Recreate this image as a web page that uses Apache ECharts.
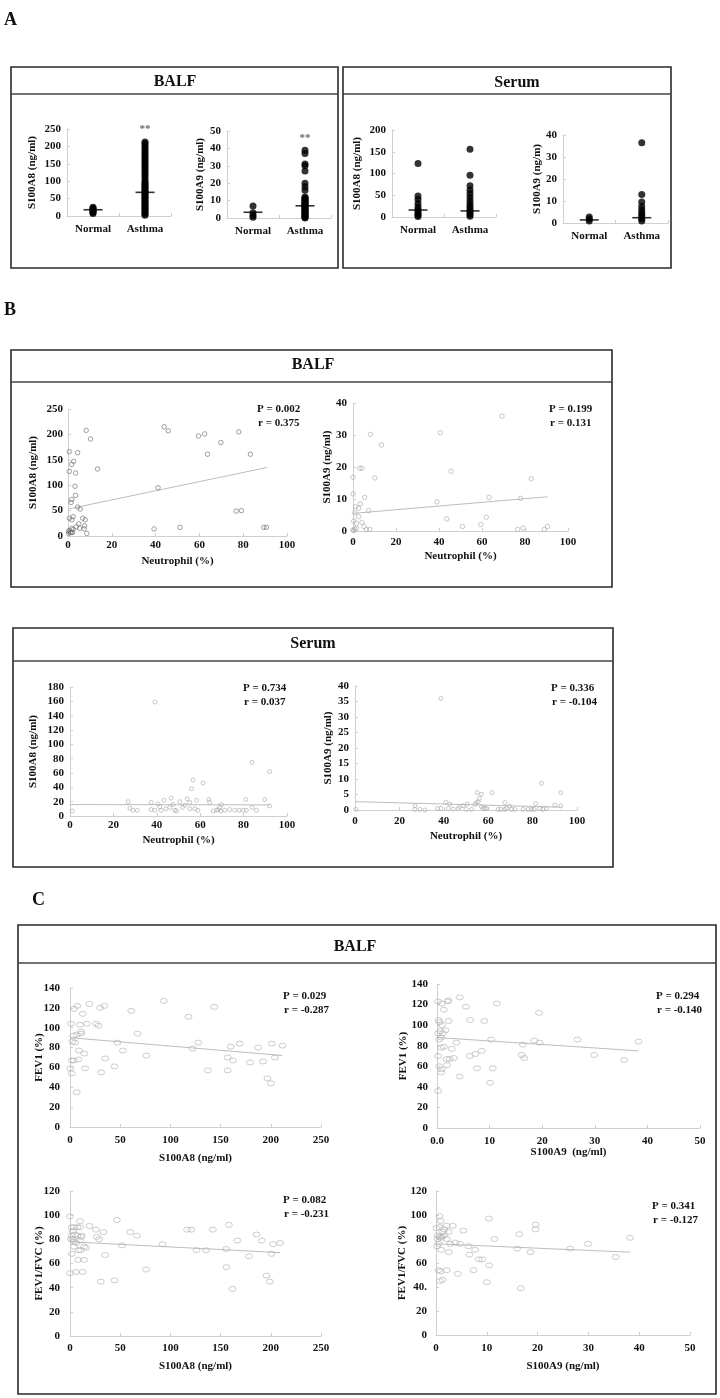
<!DOCTYPE html>
<html><head><meta charset="utf-8">
<script src="https://cdn.jsdelivr.net/npm/echarts@6/dist/echarts.min.js"></script>
<style>html,body{margin:0;padding:0;background:#fff}#c{width:720px;height:1398px}</style>
</head><body><div id="c"></div>
<script>
const FONT = "'Liberation Serif','Times New Roman',serif";

// ---------- Panel A (group dot plots) ----------
const groups = ['Normal', 'Asthma'];
const balfA8Normal = [7, 10, 13, 16, 19, 22, 25];
const balfA8Asthma = [2,6,10,14,18,22,26,30,34,38,42,46,50,54,58,62,66,70,74,78,82,86,90,94,98,104,112,118,124,130,136,142,148,154,160,166,172,178,184,190,196,202,208,213];
const balfA8Mean = [18, 68];
const balfA9Normal = [0.5, 1.5, 3, 6.9];
const balfA9Asthma = [0,0.5,1,1.5,2,2.5,3,3.5,4,4.5,5,5.5,6,6.5,7,7.5,8,8.5,9,9.5,10,10.5,11,11.5,12,16,18,20,27,30,31,37,39];
const balfA9Mean = [3.3, 7];
const serumA8Normal = [123,48,40,31,23,17,12,8,4,1];
const serumA8Asthma = [156,96,72,62,54,46,38,31,25,19,14,9,5,2];
const serumA8Mean = [16, 14];
const serumA9Normal = [0.9, 1.8, 2.7];
const serumA9Asthma = [36.5,13,9.5,7.5,6,4.8,3.8,2.7,1.8,0.9];
const serumA9Mean = [1.4, 2.4];
const sigMarks = ['', '**'];

// ---------- Panel B (vs neutrophil %) ----------
const balfNeutA8 = [[8.3,208],[10.3,191],[0.6,166],[4.4,164],[2.6,147],[1.7,141],[0.6,127],[3.5,124],[13.5,132],[3.2,98],[3.5,80],[1.7,72],[1.4,66],[4.4,57],[5.6,53],[0.6,35],[2.3,38],[1.8,32],[6.7,35],[7.9,32],[4.9,24],[7.6,20],[3.8,18],[5.3,15],[7.4,14],[1.7,15],[2.3,13],[0.6,11],[0.3,9],[1.1,7],[1.5,7],[2.1,7],[0.3,5],[8.6,5],[43.9,215],[45.8,207],[59.6,197],[62.4,201],[63.7,161],[69.8,184],[78,205],[83.3,161],[41.1,95],[39.3,14],[51.1,17],[76.8,49],[79.2,50],[89.4,17],[90.6,17]];
const balfNeutA8Fit = [[0,53],[91,135]];
const balfNeutA9 = [[69.3,35.9],[8.1,30.2],[40.6,30.7],[13.2,26.9],[3.1,19.6],[4.2,19.6],[0,16.8],[10.2,16.6],[45.6,18.7],[82.9,16.3],[0,11.6],[5.4,10.5],[63.3,10.5],[78,10.2],[39.1,9.1],[1.2,7.6],[3.4,8.5],[2.6,7.1],[7.3,6.4],[0.8,5.7],[2.6,4.5],[0.3,3.1],[4.2,2.7],[1.6,2.4],[43.6,3.8],[62,4.3],[59.5,2],[50.9,1.4],[5.1,1.4],[7.8,0.5],[6.2,0.5],[0,0.3],[0.8,0.6],[1.6,0.8],[0.4,0.1],[76.6,0.5],[79.1,0.9],[89,0.5],[90.5,1.4]];
const balfNeutA9Fit = [[0,5.5],[90.5,10.7]];
const serumNeutA8 = [[39.1,159],[1,7],[26.8,20],[27.6,11],[29,8],[31,8],[37.4,19],[37.4,9],[39,8],[40.5,17],[41.9,8],[43.3,22],[41.4,13],[44.2,10],[46.6,25],[46,12],[48.3,8],[49,7],[47.5,16],[50.6,20],[51.8,12],[52.9,15],[54,24],[56.7,50],[56,38],[61.3,46],[58.3,22],[55.2,19],[57.5,10],[55.2,10],[58.9,8],[63.9,23],[64.4,19],[66,7],[67.5,8],[68.3,9],[69,12],[69.8,16],[69.5,7],[71.3,8],[73.6,9],[75.9,8],[77.9,8],[79.8,8],[81,23],[81.3,8],[83.9,75],[83.9,12],[85.9,8],[89.7,23],[92,62],[92,14]];
const serumNeutA8Fit = [[0,16],[92,15.5]];
const serumNeutA9 = [[38.7,36],[0.4,0.2],[27,1.4],[27,0.2],[29.2,0.2],[31.5,0],[37.2,0.5],[38.7,0.5],[40.9,2.5],[42.7,1.9],[42,0.5],[44.2,0.3],[46.5,0.5],[47.2,1.1],[48.7,1.4],[50,0.2],[50.5,1.9],[52.5,0.2],[54,1.8],[54.7,2.4],[55,5.6],[57,5.1],[56,3.7],[55.5,2.7],[57,1.1],[57.7,0.5],[58.5,0.5],[59.2,0.5],[61.8,5.6],[64.5,0.2],[65.7,0.2],[67.5,2.4],[67.5,0.2],[68.2,0.5],[69.7,1.3],[70.5,0.2],[72,0.2],[75.7,0.2],[78,0.2],[79.5,0.2],[80.7,0.2],[81.4,2.1],[83.2,0.5],[84,8.6],[84.7,0.2],[86.2,0.5],[90,1.6],[92.7,5.6],[92.7,1.3]];
const serumNeutA9Fit = [[0,2.7],[93,0.9]];

// ---------- Panel C (lung function) ----------
const fev1VsA8 = [[1,104],[0.3,59],[1.7,54],[1.7,67],[2.3,86],[3.3,92],[4,119],[7.3,122],[4,67],[6.7,35],[5,85],[6.7,93],[8.3,68],[9,77],[10,103],[11,96],[11,94],[12.7,114],[14.3,74],[15,59],[16.7,104],[19.3,124],[26,104],[28.3,102],[30,120],[34.3,122],[31,55],[35,69],[44.3,61],[47.3,85],[52.7,77],[61,117],[67.3,94],[76,72],[93.3,127],[118,111],[122,79],[127.7,85],[137.3,57],[143.7,121],[157,57],[157,70],[160,81],[162.3,67],[169,84],[179.3,65],[187.3,80],[192.3,66],[196.7,49],[200,44],[201,84],[204,70],[211.7,82]];
const fev1VsA8Fit = [[0,90],[211.7,72]];
const fev1VsA9 = [[0.2,123],[0.9,121],[1.3,115],[2.2,124],[2,123],[4.3,127],[5.5,118],[11.4,121],[19.4,112],[0.3,105],[0.5,103],[0.9,100],[2.2,104],[6.3,105],[9,104],[0.2,92],[0.6,94],[1.6,95],[1.1,92],[0.4,86],[0.8,88],[3.7,83],[10.3,86],[0.8,78],[1.3,79],[2.8,77],[16.3,81],[18.5,85],[19.5,83],[26.7,86],[38.3,84],[0.2,70],[1.8,67],[2.4,67],[3.2,68],[6.2,70],[7.3,72],[8.5,75],[16.1,71],[16.6,68],[29.9,71],[35.6,66],[0.4,60],[0.9,57],[1.9,61],[7.6,58],[10.6,58],[0.8,54],[4.3,50],[10.1,44],[0.2,36]];
const fev1VsA9Fit = [[0,88],[38.3,75]];
const ratioVsA8 = [[0,99],[1.7,90],[4,90],[7.3,90],[10,95],[10,90],[19.3,91],[25.7,88],[46.7,96],[2.7,87],[1.7,83],[5,84],[7.3,83],[11.7,83],[11,82],[26.7,82],[29,80],[33.3,86],[60,86],[66.7,83],[116.7,88],[121,88],[142.3,88],[158.3,92],[1,80],[2.7,80],[4,78],[6,77],[10,79],[14,74],[4,74],[8.3,71],[10.7,71],[16,73],[51.7,75],[92.3,76],[126,71],[135.7,71],[155.7,72],[166.7,79],[185.7,84],[191,79],[202.3,76],[209.3,77],[200.7,68],[178.3,66],[1.7,68],[8.3,63],[14,63],[35,67],[0,52],[6,53],[12.7,53],[75.7,55],[155.7,57],[30.7,45],[44.3,46],[195.7,50],[199,45],[161.7,39]];
const ratioVsA8Fit = [[0,78],[209.3,69]];
const ratioVsA9 = [[0.7,99],[0.7,90],[0.1,89],[0.9,95],[2.1,91],[3.3,91],[1.6,88],[1.4,86],[2.5,86],[5.4,87],[10.4,97],[19.6,92],[19.6,88],[0.3,83],[0.7,82],[1.2,82],[1.6,83],[0.3,80],[1,81],[2.1,80],[16.4,84],[11.5,80],[0.5,76],[2.8,76],[3.8,77],[4.7,76],[0.2,74],[1,71],[6.4,74],[7.7,71],[16,72],[26.4,72],[29.9,76],[38.2,81],[35.4,65],[2.5,69],[6.6,67],[18.6,69],[8.4,63],[9.1,63],[10.5,58],[0.5,54],[0.9,53],[2.1,54],[7.4,54],[4.3,51],[0.8,45],[1.3,46],[10,44],[16.7,39]];
const ratioVsA9Fit = [[0,76],[38.2,69]];

// tick label texts that differ from plain numbers
const c2XTickLabels = ['0.0', '10', '20', '30', '40', '50'];
const c4YTickLabels = ['0', '20', '40.', '60', '80', '100', '120'];

// ---------- build ----------
const grids = [], xAxes = [], yAxes = [], series = [];
const lblStyle = {fontFamily: FONT, fontWeight: 'bold', fontSize: 11, color: '#111'};
const axLine = {show: true, lineStyle: {color: '#cfcfcf', width: 1}};
const axTick = {show: true, inside: true, length: 3, lineStyle: {color: '#cfcfcf'}};

function yAxisCfg(i, max, interval, name, gap, margin, fmt) {
  return {gridIndex: i, type: 'value', min: 0, max: max, interval: interval,
    name: name, nameLocation: 'middle', nameGap: gap, nameRotate: 90, nameMoveOverlap: false,
    nameTextStyle: {fontFamily: FONT, fontWeight: 'bold', fontSize: 11, color: '#111'},
    axisLine: axLine, axisTick: axTick, splitLine: {show: false},
    axisLabel: Object.assign({margin: margin, formatter: fmt}, lblStyle)};
}

function addGroupPanel(rect, normal, asthma, means, yMax, yInt, yName, gap, sigY) {
  const i = grids.length;
  grids.push(Object.assign({outerBoundsMode: 'none', containLabel: false}, rect));
  xAxes.push({gridIndex: i, type: 'category', data: groups, boundaryGap: true,
    axisLine: axLine, axisTick: axTick, splitLine: {show: false},
    axisLabel: Object.assign({margin: 8}, lblStyle)});
  yAxes.push(yAxisCfg(i, yMax, yInt, yName, gap, 6));
  const dot = {type: 'scatter', xAxisIndex: i, yAxisIndex: i, symbol: 'circle', symbolSize: 7,
    itemStyle: {color: '#000'}, silent: true};
  series.push(Object.assign({}, dot, {data: normal.map(v => [groups[0], v])}));
  series.push(Object.assign({}, dot, {data: asthma.map(v => [groups[1], v])}));
  series.push({type: 'scatter', xAxisIndex: i, yAxisIndex: i, symbol: 'rect', symbolSize: [19, 1.6],
    itemStyle: {color: '#000'}, data: means.map((m, k) => [groups[k], m]), z: 5});
  if (sigY != null) {
    series.push({type: 'scatter', xAxisIndex: i, yAxisIndex: i, symbolSize: 1,
      itemStyle: {color: 'rgba(0,0,0,0)'},
      label: {show: true, position: 'inside', formatter: p => sigMarks[1],
        fontFamily: FONT, fontWeight: 'bold', fontSize: 11, color: '#444'},
      data: [[groups[1], sigY]]});
  }
}

function addScatterPanel(o) {
  const i = grids.length;
  grids.push(Object.assign({outerBoundsMode: 'none', containLabel: false}, o.rect));
  xAxes.push({gridIndex: i, type: 'value', min: 0, max: o.xMax, interval: o.xInt,
    name: o.xName, nameLocation: 'middle', nameGap: o.xGap, nameMoveOverlap: false,
    nameTextStyle: {fontFamily: FONT, fontWeight: 'bold', fontSize: 11, color: '#111'},
    axisLine: axLine, axisTick: axTick, splitLine: {show: false},
    axisLabel: Object.assign({margin: o.xMargin, formatter: o.xFmt}, lblStyle)});
  yAxes.push(yAxisCfg(i, o.yMax, o.yInt, o.yName, o.yGap, o.yMargin, o.yFmt));
  series.push({type: 'scatter', xAxisIndex: i, yAxisIndex: i, symbol: 'circle',
    symbolSize: o.sym, data: o.data, silent: true,
    itemStyle: {color: 'rgba(0,0,0,0)', borderColor: o.color, borderWidth: 0.8}});
  series.push({type: 'line', xAxisIndex: i, yAxisIndex: i, data: o.fit, showSymbol: false,
    symbol: 'none', lineStyle: {color: '#bdbdbd', width: 1}, silent: true, z: 1});
}

// Panel A
addGroupPanel({left: 67, top: 129, width: 104, height: 87}, balfA8Normal, balfA8Asthma, balfA8Mean, 250, 50, 'S100A8 (ng/ml)', 29, 250);
addGroupPanel({left: 227, top: 131, width: 104, height: 87}, balfA9Normal, balfA9Asthma, balfA9Mean, 50, 10, 'S100A9 (ng/ml)', 21, 46);
addGroupPanel({left: 392, top: 130, width: 104, height: 87}, serumA8Normal, serumA8Asthma, serumA8Mean, 200, 50, 'S100A8 (ng/ml)', 29, null);
addGroupPanel({left: 563, top: 135, width: 105, height: 88}, serumA9Normal, serumA9Asthma, serumA9Mean, 40, 10, 'S100A9 (ng/m)', 20, null);

// Panel B
addScatterPanel({rect: {left: 68, top: 409, width: 219, height: 127}, xMax: 100, xInt: 20, yMax: 250, yInt: 50,
  xName: 'Neutrophil (%)', xGap: 20, xMargin: 4, yName: 'S100A8 (ng/ml)', yGap: 29, yMargin: 5,
  sym: 4.5, color: '#6a6a6a', data: balfNeutA8, fit: balfNeutA8Fit});
addScatterPanel({rect: {left: 353, top: 403, width: 215, height: 128}, xMax: 100, xInt: 20, yMax: 40, yInt: 10,
  xName: 'Neutrophil (%)', xGap: 20, xMargin: 6, yName: 'S100A9 (ng/ml)', yGap: 20, yMargin: 6,
  sym: 4.5, color: '#a8a8a8', data: balfNeutA9, fit: balfNeutA9Fit});
addScatterPanel({rect: {left: 70, top: 687, width: 217, height: 129}, xMax: 100, xInt: 20, yMax: 180, yInt: 20,
  xName: 'Neutrophil (%)', xGap: 19, xMargin: 4, yName: 'S100A8 (ng/ml)', yGap: 31, yMargin: 6,
  sym: 4, color: '#a8a8a8', data: serumNeutA8, fit: serumNeutA8Fit});
addScatterPanel({rect: {left: 355, top: 686, width: 222, height: 124}, xMax: 100, xInt: 20, yMax: 40, yInt: 5,
  xName: 'Neutrophil (%)', xGap: 21, xMargin: 6, yName: 'S100A9 (ng/ml)', yGap: 21, yMargin: 6,
  sym: 4, color: '#a8a8a8', data: serumNeutA9, fit: serumNeutA9Fit});

// Panel C
addScatterPanel({rect: {left: 70, top: 988, width: 251, height: 139}, xMax: 250, xInt: 50, yMax: 140, yInt: 20,
  xName: 'S100A8 (ng/ml)', xGap: 26, xMargin: 8, yName: 'FEV1 (%)', yGap: 25, yMargin: 10,
  sym: [7, 5], color: '#b0b0b0', data: fev1VsA8, fit: fev1VsA8Fit});
addScatterPanel({rect: {left: 437, top: 984, width: 263, height: 144}, xMax: 50, xInt: 10, yMax: 140, yInt: 20,
  xName: 'S100A9  (ng/ml)', xGap: 19, xMargin: 8, yName: 'FEV1 (%)', yGap: 28, yMargin: 9,
  xFmt: v => c2XTickLabels[Math.round(v / 10)],
  sym: [7, 5], color: '#b0b0b0', data: fev1VsA9, fit: fev1VsA9Fit});
addScatterPanel({rect: {left: 70, top: 1191, width: 251, height: 145}, xMax: 250, xInt: 50, yMax: 120, yInt: 20,
  xName: 'S100A8 (ng/ml)', xGap: 25, xMargin: 7, yName: 'FEV1/FVC (%)', yGap: 25, yMargin: 10,
  sym: [7, 5], color: '#b0b0b0', data: ratioVsA8, fit: ratioVsA8Fit});
addScatterPanel({rect: {left: 436, top: 1191, width: 254, height: 144}, xMax: 50, xInt: 10, yMax: 120, yInt: 20,
  xName: 'S100A9 (ng/ml)', xGap: 26, xMargin: 8, yName: 'FEV1/FVC (%)', yGap: 28, yMargin: 9,
  yFmt: v => c4YTickLabels[Math.round(v / 20)],
  sym: [7, 5], color: '#b0b0b0', data: ratioVsA9, fit: ratioVsA9Fit});

// ---------- decorations ----------
const graphic = [];
function box(x, y, w, h, hy, title, tx, ty) {
  graphic.push({type: 'rect', shape: {x: x, y: y, width: w, height: h},
    style: {fill: 'none', stroke: '#2a2a2a', lineWidth: 1.6}, silent: true});
  graphic.push({type: 'line', shape: {x1: x, y1: hy, x2: x + w, y2: hy},
    style: {stroke: '#444', lineWidth: 1.3}, silent: true});
  graphic.push({type: 'text', x: tx, y: ty, silent: true,
    style: {text: title, font: 'bold 16px ' + FONT, fill: '#111', textAlign: 'center', textVerticalAlign: 'middle'}});
}
function label(x, y, text, size) {
  graphic.push({type: 'text', x: x, y: y, silent: true,
    style: {text: text, font: 'bold ' + size + 'px ' + FONT, fill: '#111', textAlign: 'left', textVerticalAlign: 'middle'}});
}
label(4, 20, 'A', 18);
label(4, 310, 'B', 18);
label(32, 900, 'C', 18);
box(11, 67, 327, 201, 94, 'BALF', 175, 82);
box(343, 67, 328, 201, 94, 'Serum', 517, 83);
box(11, 350, 601, 237, 382, 'BALF', 313, 365);
box(13, 628, 600, 239, 661, 'Serum', 313, 644);
box(18, 925, 698, 469, 963, 'BALF', 355, 947);

const stats = [
  [257, 409, 'P = 0.002', 'r = 0.375'],
  [549, 409, 'P = 0.199', 'r = 0.131'],
  [243, 688, 'P = 0.734', 'r = 0.037'],
  [551, 688, 'P = 0.336', 'r = -0.104'],
  [283, 996, 'P = 0.029', 'r = -0.287'],
  [656, 996, 'P = 0.294', 'r = -0.140'],
  [283, 1200, 'P = 0.082', 'r = -0.231'],
  [652, 1206, 'P = 0.341', 'r = -0.127']
];
stats.forEach(s => { label(s[0], s[1], s[2], 11); label(s[0] + 1, s[1] + 14.5, s[3], 11); });

const chart = echarts.init(document.getElementById('c'), null, {renderer: 'canvas'});
chart.setOption({backgroundColor: '#fff', animation: false,
  grid: grids, xAxis: xAxes, yAxis: yAxes, series: series, graphic: graphic});
</script></body></html>
